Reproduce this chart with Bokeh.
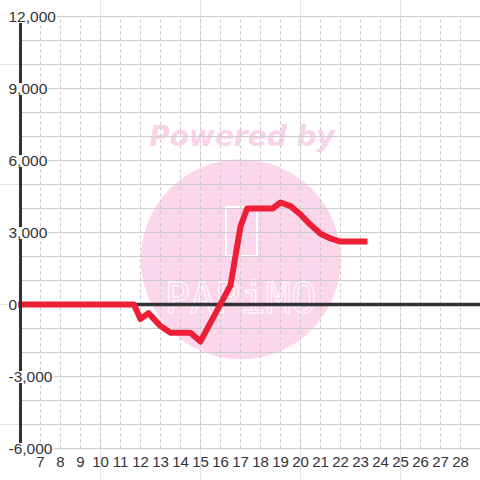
from bokeh.plotting import figure
from bokeh.embed import file_html
from bokeh.resources import INLINE
from bokeh.core.properties import value

# ---- data ----
hours = [5.87, 11.67, 12.0, 12.4, 13.0, 13.5, 14.5, 15.0, 16.5, 17.0, 17.33, 18.6, 19.0, 19.5, 20.0, 20.5, 21.0, 21.5, 22.0, 23.35]
amounts = [0, 0, -600, -360, -900, -1180, -1180, -1540, 800, 3250, 4000, 4000, 4250, 4100, 3750, 3320, 2950, 2750, 2620, 2620]

x_ticks = list(range(7, 29))
x_tick_labels = [str(v) for v in x_ticks]
y_ticks = [-6000, -3000, 0, 3000, 6000, 9000, 12000]
y_tick_labels = ["-6,000", "-3,000", "0", "3,000", "6,000", "9,000", "12,000"]
y_grid = list(range(-6000, 12001, 1000))

X_MIN, X_MAX = 6, 29
Y_MIN, Y_MAX = -6000, 12000

W, H = 480, 480
xr = (5.0, 29.0)
yr = (-7333.3, 12666.7)

p = figure(width=W, height=H, x_range=xr, y_range=yr,
           x_axis_location=None, y_axis_location=None,
           min_border=0, output_backend="svg", toolbar_location=None)
p.outline_line_color = None
p.background_fill_color = "white"
p.border_fill_color = "white"

def sx(px):  # figure pixel -> data x
    return xr[0] + px / W * (xr[1] - xr[0])

def sy(py):  # figure pixel -> data y
    return yr[1] - py / H * (yr[1] - yr[0])

# ---- watermark (below grid) ----
pink = "#fcd6eb"
p.circle([sx(240.3)], [sy(258.8)], radius=100, radius_units="screen",
         fill_color=pink, line_color=None, level="image")
p.text([sx(241.5)], [sy(136)], text=["Powered by"], text_align="center",
       text_baseline="alphabetic", text_font=value("DejaVu Sans"),
       text_font_style="bold italic", text_font_size="28px",
       text_color="#fbd3e9", level="image")
p.rect([sx(241)], [sy(231)], width=31, height=49, width_units="screen",
       height_units="screen", fill_color=None, line_color="white",
       line_width=2, level="image")
p.text([sx(240)], [sy(298)], text=["PAPiMO"], text_align="center",
       text_baseline="alphabetic", text_font=value("DejaVu Sans Mono"),
       text_font_size="42px", text_color=pink, text_outline_color="white",
       level="image")

# ---- grid ----
p.segment(x0=[X_MIN] * len(y_grid), y0=y_grid, x1=[X_MAX] * len(y_grid), y1=y_grid,
          line_color="#cccccc", line_width=1.2)
p.segment(x0=x_ticks, y0=[Y_MIN] * len(x_ticks), x1=x_ticks, y1=[Y_MAX] * len(x_ticks),
          line_color="#c8c8c8", line_width=1, line_dash="3 3")

# zero line
p.segment(x0=[X_MIN], y0=[0], x1=[X_MAX], y1=[0], line_color="#333333", line_width=3.5)

# data line
p.line(hours, amounts, line_color="#ec1f36", line_width=6, line_join="round")

# y axis line
p.segment(x0=[X_MIN], y0=[Y_MIN], x1=[X_MIN], y1=[Y_MAX], line_color="#333333", line_width=3)

# y tick labels
p.text([sx(7)] * len(y_ticks), y_ticks, text=y_tick_labels, text_align="left",
       text_baseline="middle", y_offset=0.5,
       text_font=value("Liberation Sans"), text_font_size="15.5px",
       text_color="#333333", background_fill_color="white", padding=1)

# x tick labels
p.text(x_ticks, [Y_MIN] * len(x_ticks), text=x_tick_labels, text_align="center",
       text_baseline="middle", y_offset=13.5,
       text_font=value("Liberation Sans"), text_font_size="15px",
       text_color="#333333")

open("out.html", "w").write(file_html(p, INLINE))
